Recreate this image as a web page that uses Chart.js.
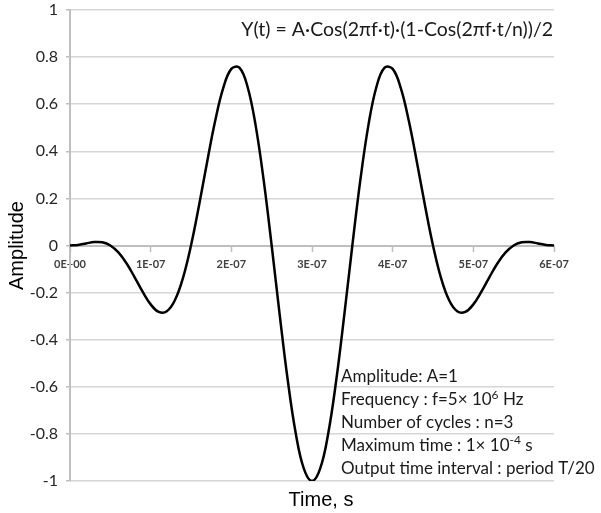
<!DOCTYPE html>
<html>
<head>
<meta charset="UTF-8">
<title>Y(t) waveform</title>
<script src="https://cdn.jsdelivr.net/npm/chart.js"></script>
<style>
  html, body { margin: 0; padding: 0; background: #fff; }
  #wrap { width: 601px; height: 513px; position: relative; }
</style>
</head>
<body>
<div id="wrap"><canvas id="waveChart" width="601" height="513"></canvas></div>
<script>
// Sample times (s), one every T/20 = 1E-08 s
const timeValues = [
  0, 1e-8, 2e-8, 3e-8, 4e-8, 5e-8, 6e-8, 7e-8, 8e-8, 9e-8,
  1.0e-7, 1.1e-7, 1.2e-7, 1.3e-7, 1.4e-7, 1.5e-7, 1.6e-7, 1.7e-7, 1.8e-7, 1.9e-7,
  2.0e-7, 2.1e-7, 2.2e-7, 2.3e-7, 2.4e-7, 2.5e-7, 2.6e-7, 2.7e-7, 2.8e-7, 2.9e-7,
  3.0e-7, 3.1e-7, 3.2e-7, 3.3e-7, 3.4e-7, 3.5e-7, 3.6e-7, 3.7e-7, 3.8e-7, 3.9e-7,
  4.0e-7, 4.1e-7, 4.2e-7, 4.3e-7, 4.4e-7, 4.5e-7, 4.6e-7, 4.7e-7, 4.8e-7, 4.9e-7,
  5.0e-7, 5.1e-7, 5.2e-7, 5.3e-7, 5.4e-7, 5.5e-7, 5.6e-7, 5.7e-7, 5.8e-7, 5.9e-7,
  6.0e-7
];

// Amplitude at each sample
const amplitudeValues = [
  0, 0.0026, 0.0088, 0.0144, 0.0134, 0, -0.0295, -0.0755, -0.1338, -0.1960,
  -0.25, -0.2821, -0.2795, -0.2328, -0.1384, 0, 0.1707, 0.3550, 0.5295, 0.6689,
  0.75, 0.7550, 0.6752, 0.5123, 0.2795, 0, -0.2957, -0.5734, -0.8002, -0.9485,
  -1, -0.9485, -0.8002, -0.5734, -0.2957, 0, 0.2795, 0.5123, 0.6752, 0.7550,
  0.75, 0.6689, 0.5295, 0.3550, 0.1707, 0, -0.1384, -0.2328, -0.2795, -0.2821,
  -0.25, -0.1960, -0.1338, -0.0755, -0.0295, 0, 0.0134, 0.0144, 0.0088, 0.0026,
  0
];

const xTickLabels = ['0E+00', '1E-07', '2E-07', '3E-07', '4E-07', '5E-07', '6E-07'];

const formulaText = 'Y(t) = A\u00b7Cos(2\u03c0f\u00b7t)\u00b7(1-Cos(2\u03c0f\u00b7t/n))/2';

// '^' toggles superscript
const noteLines = [
  'Amplitude: A=1',
  'Frequency : f=5\u00d7 10^6^ Hz',
  'Number of cycles : n=3',
  'Maximum time : 1\u00d7 10^-4^ s',
  'Output time interval : period T/20'
];

const axisGray = '#bfbfbf';
const gridGray = '#d6d6d6';
const textDark = '#404040';

// draws the formula, the parameter notes and the x axis title
const annotationPlugin = {
  id: 'annotations',
  afterDraw(chart) {
    const ctx = chart.ctx;
    ctx.save();
    ctx.fillStyle = '#1a1a1a';
    ctx.textBaseline = 'middle';

    ctx.font = '19.5px Lato';
    ctx.textAlign = 'right';
    ctx.fillText(formulaText, 553, 30);

    ctx.textAlign = 'left';
    noteLines.forEach((line, i) => {
      let x = 341;
      const y = 377 + i * 22.8;
      line.split('^').forEach((part, j) => {
        if (j % 2 === 1) {
          ctx.font = '12px Lato';
          ctx.fillText(part, x, y - 5);
        } else {
          ctx.font = '17px Lato';
          ctx.fillText(part, x, y);
        }
        x += ctx.measureText(part).width;
      });
    });

    ctx.font = '20px "Liberation Sans"';
    ctx.textAlign = 'center';
    ctx.fillStyle = '#000';
    ctx.fillText('Time, s', 321, 500);
    ctx.restore();
  }
};

const ctx = document.getElementById('waveChart').getContext('2d');
new Chart(ctx, {
  type: 'line',
  data: {
    datasets: [{
      label: 'Y(t)',
      data: timeValues.map((t, i) => ({ x: t, y: amplitudeValues[i] })),
      borderColor: '#000',
      borderWidth: 2.5,
      pointRadius: 0,
      tension: 0.4,
      fill: false
    }]
  },
  options: {
    responsive: false,
    animation: false,
    events: [],
    layout: {
      padding: { left: 0, right: 47, top: 10, bottom: 32 }
    },
    scales: {
      x: {
        type: 'linear',
        position: { y: 0 },
        min: 0,
        max: 6e-7,
        afterFit: scale => {
          scale.height = 0;
          scale.paddingLeft = 0;
          scale.paddingRight = 0;
        },
        afterBuildTicks: scale => {
          scale.ticks = xTickLabels.map((lbl, i) => ({ value: i * 1e-7 }));
        },
        ticks: {
          autoSkip: false,
          maxRotation: 0,
          padding: 7,
          color: textDark,
          font: { family: 'Lato', size: 11, weight: 'bold' },
          callback: (value, index) => xTickLabels[index]
        },
        grid: {
          drawOnChartArea: false,
          drawTicks: true,
          tickLength: 5,
          tickColor: axisGray,
          tickWidth: 1.5
        },
        border: { display: true, color: axisGray, width: 2 }
      },
      y: {
        min: -1,
        max: 1,
        afterFit: scale => {
          scale.width = 70;
          scale.paddingTop = 0;
          scale.paddingBottom = 0;
        },
        ticks: {
          stepSize: 0.2,
          padding: 8,
          color: '#262626',
          font: { family: 'Lato', size: 16 },
          callback: value => String(Number(value.toFixed(1)))
        },
        grid: {
          color: gridGray,
          lineWidth: 1.5,
          drawTicks: true,
          tickLength: 4,
          tickColor: axisGray
        },
        border: { display: true, color: axisGray, width: 2 },
        title: {
          display: true,
          text: 'Amplitude',
          color: '#000',
          font: { family: 'Liberation Sans', size: 20 },
          padding: { top: 5, bottom: 0 }
        }
      }
    },
    plugins: {
      legend: { display: false },
      tooltip: { enabled: false },
      title: { display: false }
    }
  },
  plugins: [annotationPlugin]
});
</script>
</body>
</html>
